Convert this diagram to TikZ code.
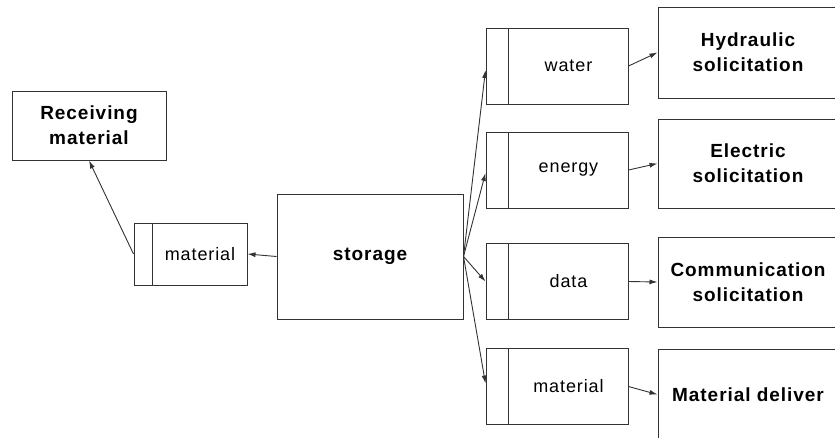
\documentclass[tikz,border=0pt]{standalone}
\usepackage{fontspec}
\setmainfont{Liberation Sans}
\usetikzlibrary{arrows.meta,calc,positioning}

\tikzset{
  box/.style={draw=black!80, line width=1pt, align=center, inner sep=0pt,
    font=\fontsize{19}{25}\selectfont\bfseries\addfontfeature{LetterSpace=5}},
  slotbox/.style={draw=black!80, line width=1pt, inner sep=0pt,
    minimum width=142pt, minimum height=76pt},
  slottext/.style={inner sep=0pt, font=\fontsize{18}{20}\selectfont\addfontfeature{LetterSpace=5}},
  flow/.style={draw=black!80, line width=0.9pt, -{Latex[length=8pt,width=5pt]}}
}

\begin{document}
\begin{tikzpicture}[x=1pt, y=-1pt]
  \useasboundingbox (0,0) rectangle (835,437);

  % Layout positions
  \def\xslot{557}    % right slot boxes
  \def\xbig{748}     % right output boxes

  % Left side
  \node[box, minimum width=154pt, minimum height=69pt] (recv) at (89,125.5)
    {Receiving\\material};
  \node[slotbox, minimum width=113pt, minimum height=62pt] (matL) at (190.5,254) {};
  \draw[draw=black!80, line width=1pt] ($(matL.north west)+(19,0)$) -- ($(matL.south west)+(19,0)$);
  \node[slottext] (matL-t) at ($(matL.center)+(9.5,0)$) {material};

  % Central storage
  \node[box, minimum width=186pt, minimum height=125pt] (store) at (370,256.5) {storage};

  % Slot boxes on the right
  \node[slotbox] (water)  at (\xslot,66)    {};
  \node[slotbox] (energy) at (\xslot,170)   {};
  \node[slotbox] (data)   at (\xslot,281.5) {};
  \node[slotbox] (matR)   at (\xslot,386.5) {};
  \foreach \s/\t in {water/water, energy/energy, data/data, matR/material} {
    \draw[draw=black!80, line width=1pt] ($(\s.north west)+(23,0)$) -- ($(\s.south west)+(23,0)$);
    \node[slottext] (\s-t) at ($(\s.center)+(11.5,0)$) {\t};
  }

  % Output boxes
  \node[box, minimum width=180pt, minimum height=91pt] (hyd)   at (\xbig,52.5)  {Hydraulic\\solicitation};
  \node[box, minimum width=180pt, minimum height=89pt] (elec)  at (\xbig,163.5) {Electric\\solicitation};
  \node[box, minimum width=180pt, minimum height=90pt] (comm)  at (\xbig,282)   {Communication\\solicitation};
  \node[box, minimum width=180pt, minimum height=91pt] (deliv) at (\xbig,394.5) {Material deliver};

  % Connectors
  \draw[flow] (store.west) -- (matL.east);
  \draw[flow] (matL.west) -- (recv.south);
  \draw[flow] (store.east) -- ([yshift=-4pt]water.west);
  \draw[flow] (store.east) -- ([yshift=-3pt]energy.west);
  \draw[flow] (store.east) -- (data.west);
  \draw[flow] (store.east) -- ([yshift=3pt]matR.west);
  \draw[flow] (water.east) -- (hyd.west);
  \draw[flow] (energy.east) -- (elec.west);
  \draw[flow] (data.east) -- (comm.west);
  \draw[flow] (matR.east) -- (deliv.west);
\end{tikzpicture}
\end{document}
